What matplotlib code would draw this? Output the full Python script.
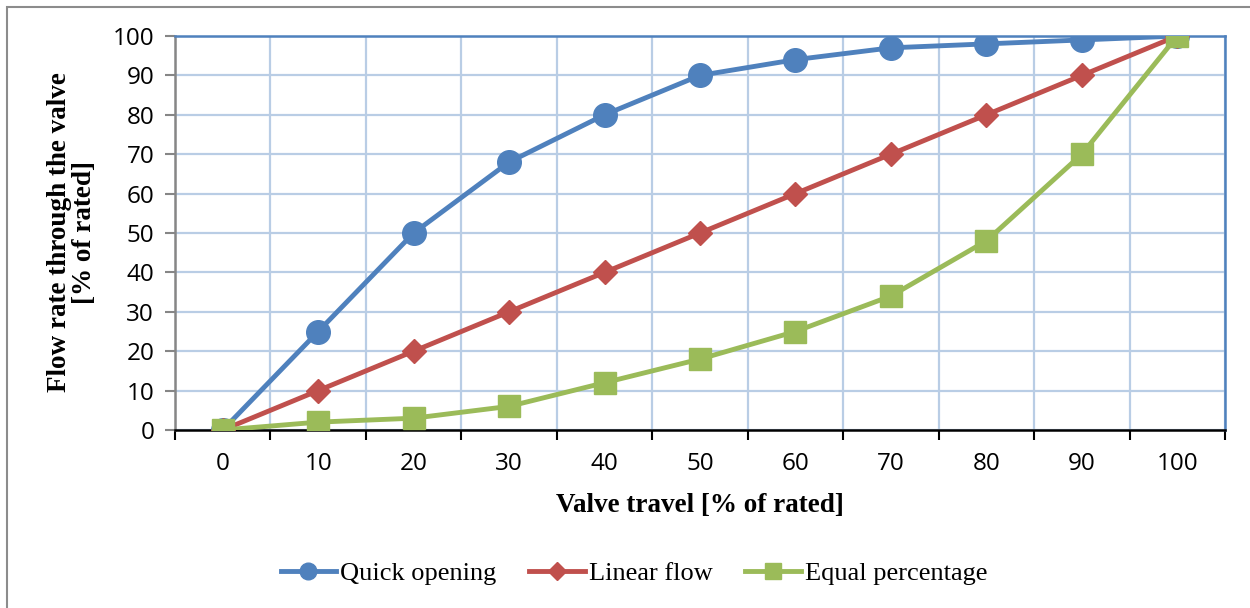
import matplotlib.pyplot as plt
from matplotlib.patches import Rectangle
from matplotlib.lines import Line2D

travel = ['0', '10', '20', '30', '40', '50', '60', '70', '80', '90', '100']
quick_opening = [0, 25, 50, 68, 80, 90, 94, 97, 98, 99, 100]
linear_flow = [0, 10, 20, 30, 40, 50, 60, 70, 80, 90, 100]
equal_percentage = [0, 2, 3, 6, 12, 18, 25, 34, 48, 70, 100]

W, H = 1250, 608
fig = plt.figure(figsize=(W / 100, H / 100), dpi=100)
fig.patch.set_facecolor('white')

# outer chart frame (only top and left visible in the reference)
fig.add_artist(Rectangle((7 / W, -0.05), 1.2, 1 - 7 / H + 0.05, transform=fig.transFigure,
                         fill=False, edgecolor='#8c8c8c', linewidth=1.5))

ax = fig.add_axes([175 / W, 1 - 430 / H, 1050 / W, 394 / H])
x = list(range(len(travel)))

ax.plot(x, quick_opening, color='#4F81BD', lw=3.5, marker='o', ms=17, label='Quick opening', zorder=3)
ax.plot(x, linear_flow, color='#C0504D', lw=3.5, marker='D', ms=12.5, label='Linear flow', zorder=4)
ax.plot(x, equal_percentage, color='#9BBB59', lw=3.5, marker='s', ms=16.5, label='Equal percentage', zorder=5)

ax.set_xlim(-0.5, len(travel) - 0.5)
ax.set_ylim(0, 100)
ax.set_yticks(range(0, 101, 10))
ax.set_xticks(x)
ax.set_xticklabels(travel)
ax.set_xticks([i - 0.5 for i in range(len(travel) + 1)], minor=True)

ax.grid(axis='y', which='major', color='#B9CDE5', lw=1.6, zorder=0)
ax.grid(axis='x', which='minor', color='#B9CDE5', lw=1.6, zorder=0)
ax.set_axisbelow(True)

ax.tick_params(axis='x', which='major', length=0, pad=16, labelsize=17.5)
ax.tick_params(axis='x', which='minor', length=7, width=1.5, color='black', direction='out')
ax.tick_params(axis='y', length=7, width=1.5, color='#868686', pad=8, labelsize=17.5)
for lab in ax.get_xticklabels() + ax.get_yticklabels():
    lab.set_fontfamily('Open Sans')

ax.spines['left'].set_color('#868686')
ax.spines['left'].set_linewidth(1.8)
ax.spines['bottom'].set_color('black')
ax.spines['bottom'].set_linewidth(1.8)
ax.spines['top'].set_color('#4F81BD')
ax.spines['top'].set_linewidth(1.8)
ax.spines['right'].set_color('#4F81BD')
ax.spines['right'].set_linewidth(1.8)

ax.set_xlabel('Valve travel [% of rated]', fontfamily='Liberation Serif', fontweight='bold',
              fontsize=19.5, labelpad=12)
fig.text(72 / W, 1 - 232 / H, 'Flow rate through the valve\n[% of rated]', rotation=90,
         ha='center', va='center', fontfamily='Liberation Serif', fontweight='bold',
         fontsize=19.5, linespacing=1.05)

handles = [Line2D([0], [0], color='#4F81BD', lw=3.5, marker='o', ms=12),
           Line2D([0], [0], color='#C0504D', lw=3.5, marker='D', ms=9),
           Line2D([0], [0], color='#9BBB59', lw=3.5, marker='s', ms=12)]
fig.legend(handles, ['Quick opening', 'Linear flow', 'Equal percentage'],
           loc='center', bbox_to_anchor=(634 / W, 1 - 573 / H), ncol=3, frameon=False,
           prop={'family': 'Liberation Serif', 'size': 19}, handlelength=2.1,
           handletextpad=0.15, columnspacing=1.25)

fig.savefig('out.png', dpi=100)
